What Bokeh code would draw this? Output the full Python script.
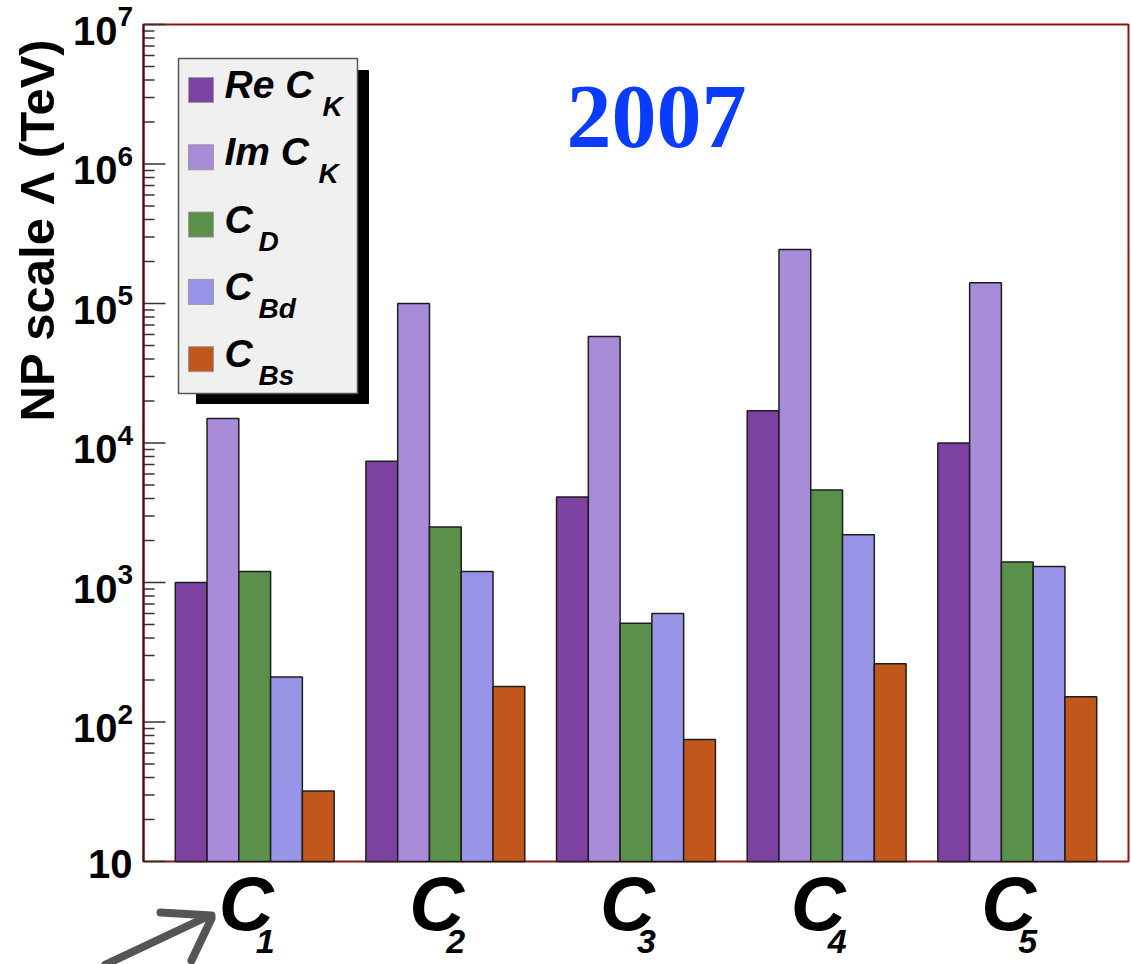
import math
from bokeh.plotting import figure
from bokeh.models import Range1d, Label, ColumnDataSource
from bokeh.embed import file_html
from bokeh.resources import INLINE

# ---- data -------------------------------------------------------------
operators = ["1", "2", "3", "4", "5"]                 # C_1 ... C_5
series_main = ["Re C", "Im C", "C", "C", "C"]
series_sub = ["K", "K", "D", "Bd", "Bs"]

re_ck = [1.0e3, 7.4e3, 4.1e3, 1.7e4, 1.0e4]
im_ck = [1.5e4, 1.0e5, 5.8e4, 2.44e5, 1.41e5]
c_d = [1.2e3, 2.5e3, 5.1e2, 4.6e3, 1.4e3]
c_bd = [2.1e2, 1.2e3, 6.0e2, 2.2e3, 1.3e3]
c_bs = [32, 180, 75, 262, 152]
series_values = [re_ck, im_ck, c_d, c_bd, c_bs]

colors = ["#7d41a1", "#a88bd9", "#5b904b", "#9894e7", "#c1571a"]
decades = [1, 2, 3, 4, 5, 6, 7]
year_label = "2007"
y_title = "NP scale \u039b (TeV)"

# ---- geometry -----------------------------------------------------------
# The plotting frame fills the whole canvas; the histogram box sits inside it.
W, H = 1131, 964
BL, BR, BT, BB = 143, 1128, 24, 861          # histogram box edges (px)
N_SLOTS = 31                                  # gap + 5 bars per group, + final gap
Y_MIN, Y_MAX = 10.0, 1.0e7
SANS = "Liberation Sans"
X_PER_PX = N_SLOTS / (BR - BL)
DEC_PX = (BB - BT) / (math.log10(Y_MAX) - math.log10(Y_MIN))


def xd(px):
    return (px - BL) * X_PER_PX


def yd(py):
    return 10 ** (math.log10(Y_MAX) - (py - BT) / DEC_PX)


def label(x, y, text, size, style="bold", align="left", font=SANS,
          color="black", angle=0.0, x_offset=0):
    return Label(x=x, y=y, text=text, angle=angle, text_align=align,
                 x_offset=x_offset, text_baseline="middle", text_font=font,
                 text_font_style=style, text_font_size=f"{size}px",
                 text_color=color)


p = figure(width=W, height=H, y_axis_type="log",
           x_range=Range1d(xd(0), xd(W)), y_range=Range1d(yd(H), yd(0)),
           output_backend="svg", toolbar_location=None,
           min_border=0, outline_line_color=None)
p.background_fill_color = "white"
p.border_fill_color = "white"
p.xgrid.visible = False
p.ygrid.visible = False
p.xaxis.visible = False
p.yaxis.visible = False

# ---- histogram box ----------------------------------------------------------
p.quad(left=[0], right=[N_SLOTS], bottom=[Y_MIN], top=[Y_MAX],
       fill_color=None, line_color="#8a1515", line_width=2)

# ---- bars -----------------------------------------------------------------
group_centers = [3.5 + 6 * i for i in range(len(operators))]
for j, vals in enumerate(series_values):
    src = ColumnDataSource(dict(x=[c + (j - 2) for c in group_centers], top=vals))
    p.vbar(x="x", top="top", bottom=Y_MIN, width=1.0, source=src,
           fill_color=colors[j], line_color="#1e1e1e", line_width=1.5)

# ---- y axis ticks (pointing into the box) -----------------------------------
major = [10.0 ** d for d in decades]
minor = [k * 10.0 ** d for d in decades[:-1] for k in range(2, 10)]
p.segment(x0=[0] * len(major), y0=major, x1=[22 * X_PER_PX] * len(major), y1=major,
          line_color="#333333", line_width=1.5)
p.segment(x0=[0] * len(minor), y0=minor, x1=[11 * X_PER_PX] * len(minor), y1=minor,
          line_color="#333333", line_width=1.5)
p.segment(x0=[0], y0=[Y_MIN], x1=[0], y1=[Y_MAX], line_color="#4a0c0c", line_width=2)

# ---- y tick labels ---------------------------------------------------------
for d in decades:
    if d == 1:
        p.add_layout(label(xd(BL - 11), yd(BB + 2), "10", 40, align="right"))
    else:
        ty = BT + (decades[-1] - d) * DEC_PX
        p.add_layout(label(xd(BL - 26), yd(ty + 6), "10", 40, align="right"))
        p.add_layout(label(xd(BL - 26), yd(ty - 8), str(d), 28))

p.add_layout(label(xd(36), yd(421), y_title, 49, angle=math.pi / 2))

# ---- group labels C_i -------------------------------------------------------
for c, op in zip(group_centers, operators):
    p.add_layout(label(c, yd(903), "C", 76, style="bold italic", x_offset=-36))
    p.add_layout(label(c, yd(941), op, 34, style="bold italic", x_offset=1))

# ---- year -----------------------------------------------------------------
p.add_layout(label(xd(656), yd(116), year_label, 90, align="center",
                   font="Liberation Serif", color="#0a3cff"))

# ---- legend -----------------------------------------------------------------
p.quad(left=[xd(196)], right=[xd(368)], top=[yd(70)], bottom=[yd(403)],
       fill_color="black", line_color="black")
p.quad(left=[xd(178)], right=[xd(357)], top=[yd(58)], bottom=[yd(393)],
       fill_color="#f0f0f0", line_color="#555555", line_width=1.5)
row_step = 67.3
sub_dx = [98, 94, 34, 34, 34]
for j in range(len(series_main)):
    top_px = 77 + row_step * j
    p.quad(left=[xd(188)], right=[xd(213)], top=[yd(top_px)], bottom=[yd(top_px + 25)],
           fill_color=colors[j], line_color="#9a9a9a", line_width=1)
    mid_px = 84 + row_step * j
    p.add_layout(label(xd(224), yd(mid_px), series_main[j], 39, style="bold italic"))
    p.add_layout(label(xd(224 + sub_dx[j]), yd(mid_px + 22), series_sub[j], 28,
                       style="bold italic"))

# ---- hand-drawn pointer below C_1 -------------------------------------------
strokes = [((105, 964), (205, 917)),
           ((160, 912), (211, 915)),
           ((211, 918), (191, 960))]
p.multi_line(xs=[[xd(a[0]), xd(b[0])] for a, b in strokes],
             ys=[[yd(a[1]), yd(b[1])] for a, b in strokes],
             line_color="#555555", line_width=8, line_cap="round")

open("out.html", "w").write(file_html(p, INLINE))
